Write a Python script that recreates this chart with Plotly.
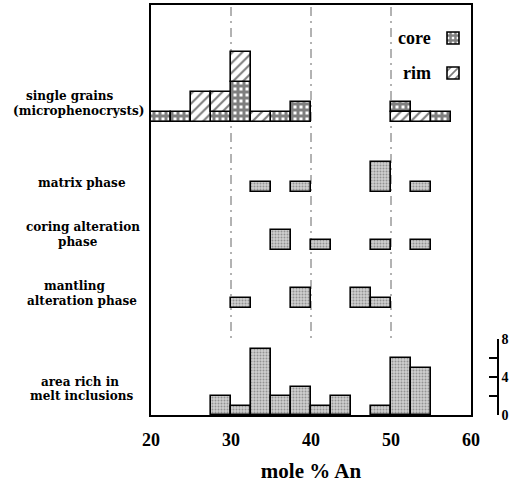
import plotly.graph_objects as go

# ---------------- data (mole % An, bins 2.5 % wide, left edges) ----------------
sg_bins = [20, 22.5, 25, 27.5, 30, 32.5, 35, 37.5, 50, 52.5, 55]
sg_core = [1, 1, 0, 1, 4, 0, 1, 2, 1, 0, 1]
sg_rim = [0, 0, 3, 2, 3, 1, 0, 0, 1, 1, 0]
sg_core_on_top = [False, False, False, False, False, False, False, False, True, False, False]

matrix_bins = [32.5, 37.5, 47.5, 52.5]
matrix_counts = [1, 1, 3, 1]
coring_bins = [35, 40, 47.5, 52.5]
coring_counts = [2, 1, 1, 1]
mantling_bins = [30, 37.5, 45, 47.5]
mantling_counts = [1, 2, 2, 1]
melt_bins = [27.5, 30, 32.5, 35, 37.5, 40, 42.5, 47.5, 50, 52.5]
melt_counts = [2, 1, 7, 2, 3, 1, 2, 1, 6, 5]

x_ticks = [20, 30, 40, 50, 60]
melt_tickvals = [0, 2, 4, 6, 8]
melt_ticktext = ["0", "", "4", "", "8"]
grid_lines = [30, 40, 50]

# ---------------- layout constants ----------------
BIN = 2.5
W, H = 518, 483
ML, MR, MT, MB = 151, 0, 5, 68
PW, PH = W - ML - MR, H - MT - MB
FRAME_R = 471
BASE = {"single": 29.3, "matrix": 22.35, "coring": 16.5, "mantling": 10.7}
SERIF = "Liberation Serif"
LABEL_FONT = "DejaVu Serif"


def px(x):
    return (x - ML) / PW


def py(y):
    return (H - MB - y) / PH


stipple = dict(shape=".", size=3, solidity=0.35, fgcolor="#555555", bgcolor="#cfcfcf")
check = dict(shape="+", size=6, solidity=0.75, fgcolor="black", bgcolor="white")
hatch = dict(shape="/", size=7, solidity=0.3, fgcolor="black", bgcolor="white")
outline = dict(color="black", width=1.6)


def nz(xs, ys, bases):
    keep = [i for i, v in enumerate(ys) if v]
    return [xs[i] for i in keep], [ys[i] for i in keep], [bases[i] for i in keep]


fig = go.Figure()

# single grains: core / rim stacked
core_base = [BASE["single"] + (r if top else 0) for r, top in zip(sg_rim, sg_core_on_top)]
rim_base = [BASE["single"] + (0 if top else c) for c, top in zip(sg_core, sg_core_on_top)]
cx, cy, cb = nz(sg_bins, sg_core, core_base)
rx, ry, rb = nz(sg_bins, sg_rim, rim_base)
fig.add_trace(go.Bar(x=cx, y=cy, base=cb, width=BIN, offset=0, name="",
                     marker=dict(color="white", pattern=check, line=outline),
                     showlegend=True, legend="legend"))
fig.add_trace(go.Bar(x=rx, y=ry, base=rb, width=BIN, offset=0, name="",
                     marker=dict(color="white", pattern=hatch, line=outline),
                     showlegend=True, legend="legend2"))

for key, bins, counts in [("matrix", matrix_bins, matrix_counts),
                          ("coring", coring_bins, coring_counts),
                          ("mantling", mantling_bins, mantling_counts)]:
    fig.add_trace(go.Bar(x=bins, y=counts, base=[BASE[key]] * len(bins), width=BIN, offset=0,
                         marker=dict(color="#cfcfcf", pattern=stipple, line=outline),
                         showlegend=False))

fig.add_trace(go.Bar(x=melt_bins, y=melt_counts, width=BIN, offset=0, yaxis="y2",
                     marker=dict(color="#cfcfcf", pattern=stipple, line=outline),
                     showlegend=False))

for g in grid_lines:
    fig.add_shape(type="line", x0=g, x1=g, y0=0, y1=1, xref="x", yref="paper", layer="below",
                  line=dict(color="#666666", width=1, dash="9px,5px,2px,5px"))

label_lines = [
    ("single grains", 70, 96), ("(microphenocrysts)", 78, 111),
    ("matrix phase", 82, 183),
    ("coring alteration", 83, 227), ("phase", 78, 242),
    ("mantling", 75, 286), ("alteration phase", 82, 301),
    ("area rich in", 80, 382), ("melt inclusions", 82, 396),
]
for text, xc, yc in label_lines:
    fig.add_annotation(text=text, x=px(xc), y=py(yc), xref="paper", yref="paper",
                       xanchor="center", yanchor="middle", showarrow=False,
                       font=dict(family=LABEL_FONT, size=12, color="black", weight="bold"))

for text, yc in [("core", 38), ("rim", 73)]:
    fig.add_annotation(text=text, x=px(433), y=py(yc), xref="paper", yref="paper",
                       xanchor="right", yanchor="middle", showarrow=False,
                       font=dict(family=SERIF, size=18, color="black", weight="bold"))

leg = dict(xanchor="left", yanchor="middle", bgcolor="rgba(0,0,0,0)",
           font=dict(family=SERIF, size=12), itemwidth=30)

fig.update_layout(
    width=W, height=H, margin=dict(l=ML, r=MR, t=MT, b=MB, autoexpand=False),
    paper_bgcolor="white", plot_bgcolor="white", barmode="overlay", bargap=0,
    legend=dict(leg, x=px(433), y=py(38)),
    legend2=dict(leg, x=px(433), y=py(73)),
    xaxis=dict(domain=[0, (FRAME_R - ML) / PW], range=[20, 60], tickvals=x_ticks,
               ticks="", showgrid=False, zeroline=False, showline=True, mirror=True,
               linecolor="black", linewidth=2, ticklabelstandoff=7, automargin=False,
               tickfont=dict(family=SERIF, size=18, color="black", weight="bold"),
               title=dict(text="mole % An", standoff=21,
                          font=dict(family=SERIF, size=21, color="black", weight="bold"))),
    yaxis=dict(domain=[0, 1], range=[0, PH / 10], showticklabels=False, ticks="",
               showgrid=False, zeroline=False, showline=True, mirror=True,
               linecolor="black", linewidth=2, automargin=False),
    yaxis2=dict(domain=[0, 76 / PH], range=[0, 8], anchor="free", position=px(498),
                side="right", tickvals=melt_tickvals, ticktext=melt_ticktext,
                ticks="inside", ticklen=8, tickcolor="black", tickwidth=1.5,
                showline=True, linecolor="black", linewidth=1.5, automargin=False,
                showgrid=False, zeroline=False,
                tickfont=dict(family=SERIF, size=14, color="black", weight="bold")),
)

fig.write_html("out.html")
